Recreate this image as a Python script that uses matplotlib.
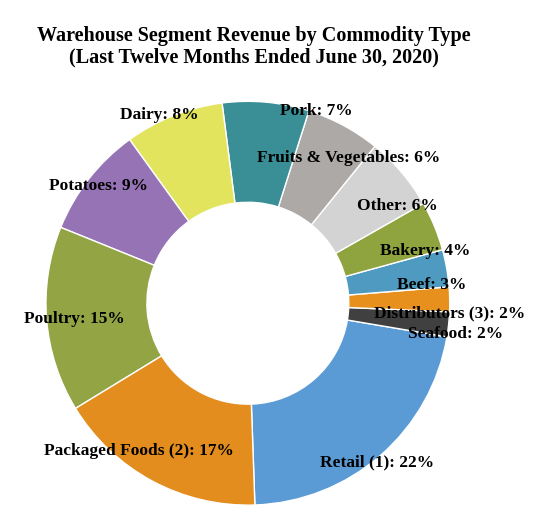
import matplotlib
matplotlib.use("Agg")
import matplotlib.pyplot as plt

categories = ["Retail (1)", "Seafood", "Distributors (3)", "Beef", "Bakery", "Other",
              "Fruits & Vegetables", "Pork", "Dairy", "Potatoes", "Poultry", "Packaged Foods (2)"]
values = [22, 2, 2, 3, 4, 6, 6, 7, 8, 9, 15, 17]
colors = ["#5B9BD5", "#404040", "#E8901E", "#4E9AC0", "#8FA33F", "#D3D3D3",
          "#ADA9A7", "#3A8F96", "#E2E45D", "#9673B5", "#93A444", "#E38D1E"]
label_pos = [(0.64, -0.79), (1.03, -0.15), (1.0, -0.05), (0.91, 0.09), (0.88, 0.26),
             (0.74, 0.48), (0.50, 0.72), (0.34, 0.95), (-0.44, 0.93), (-0.74, 0.58),
             (-0.86, -0.08), (-0.54, -0.73)]

fig = plt.figure(figsize=(5.33, 5.17), dpi=100)
ax = fig.add_axes([0.086, 0.023, 0.758, 0.781])
ax.pie(values, colors=colors, startangle=-88, counterclock=True, radius=1.0,
       wedgeprops=dict(width=0.5, edgecolor="white", linewidth=1.0))
ax.set_xlim(-1, 1); ax.set_ylim(-1, 1); ax.set_aspect("equal")
for c, v, (x, y) in zip(categories, values, label_pos):
    ax.text(x, y, f"{c}: {v}%", ha="center", va="center", fontsize=12.5,
            fontweight="bold", family="Liberation Serif", color="black", clip_on=False)
fig.text(0.477, 0.91, "Warehouse Segment Revenue by Commodity Type\n(Last Twelve Months Ended June 30, 2020)",
         ha="center", va="center", fontsize=14.5, fontweight="bold", family="Liberation Serif",
         linespacing=1.1)
fig.savefig("out.png", dpi=100, facecolor="white")
